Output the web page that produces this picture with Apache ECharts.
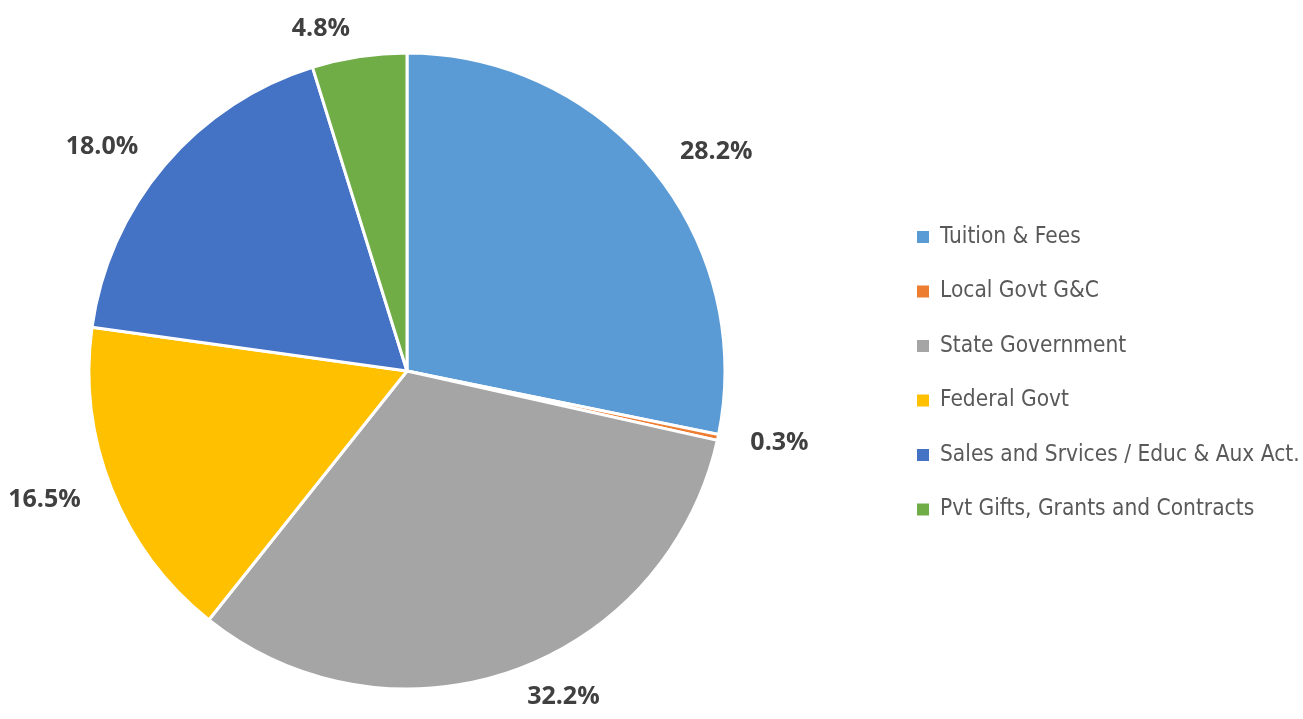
<!DOCTYPE html>
<html>
<head>
<meta charset="utf-8">
<script src="https://cdn.jsdelivr.net/npm/echarts@6/dist/echarts.min.js"></script>
<style>
  html, body { margin: 0; padding: 0; background: #fff; }
  #chart { width: 1303px; height: 719px; }
</style>
</head>
<body>
<div id="chart"></div>
<script>
// revenue sources, share in percent
var categories = ['Tuition & Fees', 'Local Govt G&C', 'State Government', 'Federal Govt', 'Sales and Srvices / Educ & Aux Act.', 'Pvt Gifts, Grants and Contracts']
var shares = [28.2, 0.3, 32.2, 16.5, 18.0, 4.8]
var colors = ['#5B9BD5', '#ED7D31', '#A5A5A5', '#FFC000', '#4472C4', '#70AD47']

var chart = echarts.init(document.getElementById('chart'))

chart.setOption({
  animation: false,
  color: colors,
  legend: {
    orient: 'vertical',
    left: 910,
    top: 220,
    icon: 'rect',
    itemWidth: 14,
    itemHeight: 14,
    itemGap: 30.5,
    textStyle: {
      color: '#595959',
      fontFamily: '"DejaVu Sans Condensed", sans-serif',
      fontStretch: 'condensed',
      fontSize: 22.5,
      lineHeight: 24,
      padding: [0, 0, 0, 5]
    },
    data: categories
  },
  series: [{
    type: 'pie',
    center: [407, 371],
    radius: [0, 318],
    startAngle: 90,
    clockwise: true,
    avoidLabelOverlap: false,
    itemStyle: {
      borderColor: '#fff',
      borderWidth: 3
    },
    label: {
      show: true,
      position: 'outside',
      formatter: function (p) { return p.value.toFixed(1) + '%' },
      color: '#404040',
      fontFamily: '"Open Sans", sans-serif',
      fontStretch: 'condensed',
      fontWeight: 'bold',
      fontSize: 25
    },
    labelLine: {
      show: false,
      length: 28,
      length2: 0
    },
    emphasis: { disabled: true },
    data: categories.map(function (name, i) {
      return { name: name, value: shares[i] }
    })
  }]
})
</script>
</body>
</html>
